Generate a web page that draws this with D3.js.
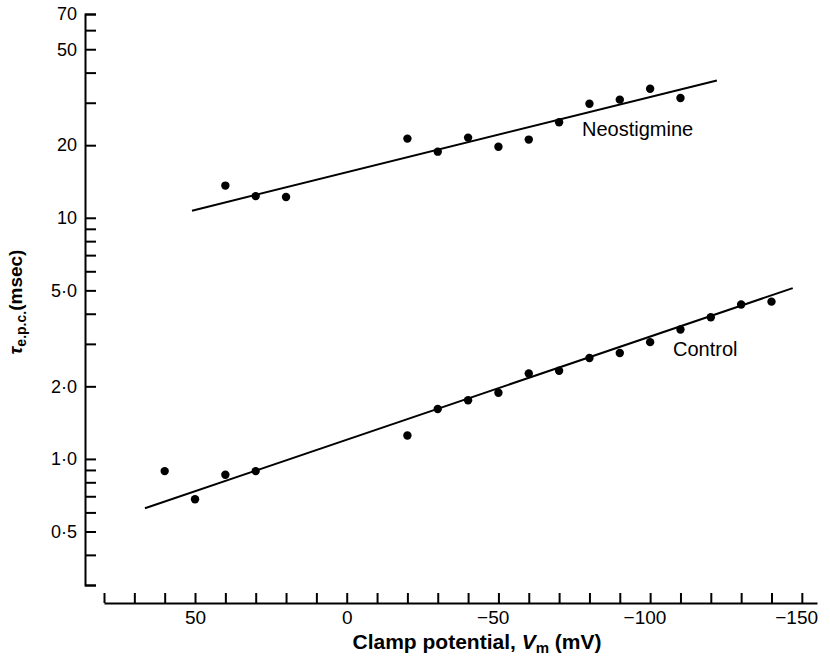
<!DOCTYPE html>
<html>
<head>
<meta charset="utf-8">
<script src="https://cdn.jsdelivr.net/npm/d3@7"></script>
<style>
    body { margin: 0; background: #fff; }
    svg { font-family: "Liberation Sans", Arial, Helvetica, sans-serif; }
    .axis path, .axis line { stroke: #000; stroke-width: 2; }
    .axis text { fill: #000; }
</style>
</head>
<body>
<svg id="chart" width="830" height="660"></svg>
<script>
// clamp potential (mV) and time constant (msec)
var neoV = [40, 30, 20, -20, -30, -40, -50, -60, -70, -80, -90, -100, -110];
var neoTau = [13.6, 12.3, 12.2, 21.3, 18.8, 21.5, 19.7, 21.1, 24.9, 29.7, 30.9, 34.3, 31.4];

var ctrlV = [60, 50, 40, 30, -20, -30, -40, -50, -60, -70, -80, -90, -100, -110, -120, -130, -140];
var ctrlTau = [0.89, 0.68, 0.86, 0.89, 1.25, 1.61, 1.75, 1.88, 2.26, 2.32, 2.62, 2.75, 3.05, 3.44, 3.87, 4.37, 4.49];

// end points of the fitted lines
var neoFitV = [51, -122];
var neoFitTau = [10.7, 37.1];
var ctrlFitV = [66.5, -147];
var ctrlFitTau = [0.624, 5.11];

var xTicks = [80, 70, 60, 50, 40, 30, 20, 10, 0, -10, -20, -30, -40, -50, -60, -70, -80,
    -90, -100, -110, -120, -130, -140, -150];
var xLabels = [50, 0, -50, -100, -150];
var yTicks = [0.3, 0.4, 0.5, 0.6, 0.7, 0.8, 0.9, 1, 2, 3, 4, 5, 6, 7, 8, 9, 10, 20, 30, 40, 50, 60, 70];
var yLabels = {0.5: "0·5", 1: "1·0", 2: "2·0", 5: "5·0", 10: "10", 20: "20", 50: "50", 70: "70"};

(function tauChart() {
    var svg = d3.select("#chart");

    var x = d3.scaleLinear().domain([80, -155]).range([104, 817]);
    var y = d3.scaleLog().domain([0.3, 70]).range([585, 14]);

    // y axis, ticks pointing into the plot
    svg.append("g")
        .attr("class", "axis")
        .attr("transform", "translate(85,0)")
        .call(d3.axisLeft(y)
            .tickValues(yTicks)
            .tickSize(-11)
            .tickPadding(8)
            .tickFormat(function (d) {
                return yLabels[d] || "";
            }))
        .selectAll("text")
        .style("font-size", "18px");

    // x axis, ticks pointing up
    svg.append("g")
        .attr("class", "axis")
        .attr("transform", "translate(0,603)")
        .call(d3.axisBottom(x)
            .tickValues(xTicks)
            .tickSize(-10)
            .tickSizeOuter(0)
            .tickPadding(8)
            .tickFormat(function (d) {
                return xLabels.indexOf(d) >= 0 ? (d < 0 ? "\u2212" + (-d) : "" + d) : "";
            }))
        .selectAll("text")
        .attr("dx", function (d) { return d < 0 ? "-0.3em" : 0; })
        .style("font-size", "19px");

    svg.selectAll(".axis .domain").attr("fill", "none");

    // axis titles
    var xt = svg.append("text")
        .attr("x", 477)
        .attr("y", 649)
        .attr("text-anchor", "middle")
        .style("font-size", "21px")
        .style("font-weight", "bold");
    xt.append("tspan").text("Clamp potential, ");
    xt.append("tspan").style("font-style", "italic").text("V");
    xt.append("tspan").attr("dy", 4).style("font-size", "15px").text("m");
    xt.append("tspan").attr("dy", -4).text(" (mV)");

    var yt = svg.append("text")
        .attr("transform", "translate(22,302) rotate(-90)")
        .attr("text-anchor", "middle")
        .style("font-size", "19px")
        .style("font-weight", "bold");
    yt.append("tspan").style("font-style", "italic").text("τ");
    yt.append("tspan").attr("dy", 4).style("font-size", "14px").text("e.p.c.");
    yt.append("tspan").attr("dy", -4).text("(msec)");

    // fitted lines
    var line = d3.line()
        .x(function (d) { return x(d[0]); })
        .y(function (d) { return y(d[1]); });

    svg.append("path")
        .datum(d3.zip(neoFitV, neoFitTau))
        .attr("d", line)
        .attr("fill", "none")
        .attr("stroke", "#000")
        .attr("stroke-width", 2);

    svg.append("path")
        .datum(d3.zip(ctrlFitV, ctrlFitTau))
        .attr("d", line)
        .attr("fill", "none")
        .attr("stroke", "#000")
        .attr("stroke-width", 2);

    // points
    svg.selectAll(".neo")
        .data(d3.zip(neoV, neoTau))
        .enter().append("circle")
        .attr("class", "neo")
        .attr("cx", function (d) { return x(d[0]); })
        .attr("cy", function (d) { return y(d[1]); })
        .attr("r", 4.2)
        .attr("fill", "#000");

    svg.selectAll(".ctrl")
        .data(d3.zip(ctrlV, ctrlTau))
        .enter().append("circle")
        .attr("class", "ctrl")
        .attr("cx", function (d) { return x(d[0]); })
        .attr("cy", function (d) { return y(d[1]); })
        .attr("r", 4.2)
        .attr("fill", "#000");

    // curve labels
    svg.append("text")
        .attr("x", 582)
        .attr("y", 136)
        .style("font-size", "20px")
        .text("Neostigmine");

    svg.append("text")
        .attr("x", 673)
        .attr("y", 356)
        .style("font-size", "20px")
        .text("Control");
}());
</script>
</body>
</html>
